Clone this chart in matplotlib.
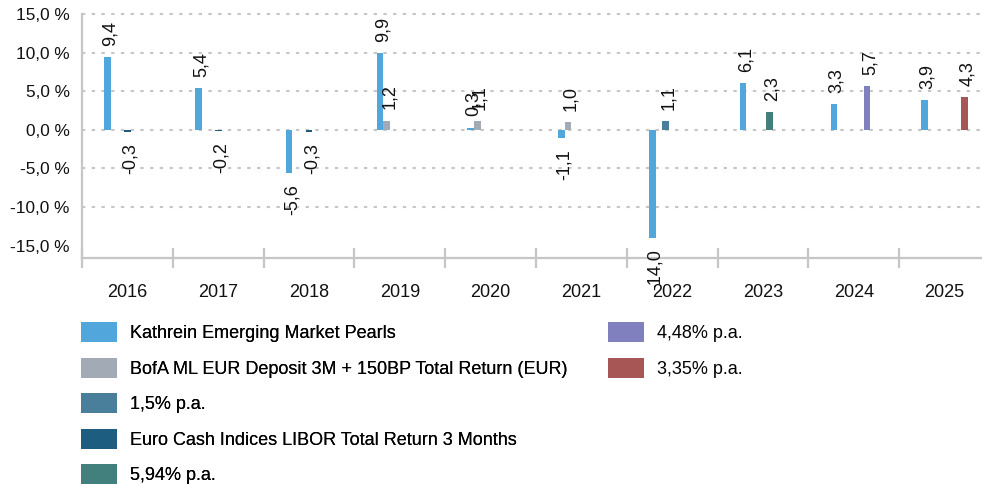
import numpy as np
import matplotlib
matplotlib.use("Agg")
import matplotlib.pyplot as plt

plt.rcParams['font.family'] = ['Liberation Sans', 'DejaVu Sans']
plt.rcParams['lines.scale_dashes'] = False

years = ['2016', '2017', '2018', '2019', '2020', '2021', '2022', '2023', '2024', '2025']
nan = np.nan
kathrein = [9.4, 5.4, -5.6, 9.9, 0.3, -1.1, -14.0, 6.1, 3.3, 3.9]
bofa = [nan, nan, nan, 1.2, 1.1, 1.0, nan, nan, nan, nan]
pa_15 = [nan, nan, nan, nan, nan, nan, 1.1, nan, nan, nan]
libor = [-0.3, -0.2, -0.3, nan, nan, nan, nan, nan, nan, nan]
pa_594 = [nan, nan, nan, nan, nan, nan, nan, 2.3, nan, nan]
pa_448 = [nan, nan, nan, nan, nan, nan, nan, nan, 5.7, nan]
pa_335 = [nan, nan, nan, nan, nan, nan, nan, nan, nan, 4.3]

series_names = ['Kathrein Emerging Market Pearls',
                'BofA ML EUR Deposit 3M + 150BP Total Return (EUR)',
                '1,5% p.a.',
                'Euro Cash Indices LIBOR Total Return 3 Months',
                '5,94% p.a.',
                '4,48% p.a.',
                '3,35% p.a.']
series_vals = [kathrein, bofa, pa_15, libor, pa_594, pa_448, pa_335]
colors = ['#51A7DC', '#A2ABB5', '#4A7F9C', '#1D5D80', '#41807C', '#8180BF', '#A85556']

yticks = [-15, -10, -5, 0, 5, 10, 15]

FS = 13
W, H = 982, 484
fig = plt.figure(figsize=(W / 100, H / 100), dpi=100)
ax = fig.add_axes([82 / W, (H - 258) / H, 908 / W, 244 / H])

x = np.arange(len(years))
bw = 0.073
n = len(series_vals)
bars = []
for i, (vals, c, name) in enumerate(zip(series_vals, colors, series_names)):
    pos = x + (i - (n - 1) / 2) * bw
    b = ax.bar(pos, vals, width=bw, color=c, label=name, zorder=3)
    bars.append(b)
    for xp, v in zip(pos, vals):
        if np.isnan(v):
            continue
        txt = f"{v:.1f}".replace('.', ',')
        if v >= 0:
            ax.annotate(txt, (xp, v), xytext=(2, 8), textcoords='offset points',
                        rotation=90, ha='center', va='bottom', fontsize=FS,
                        color='#111111', annotation_clip=False, zorder=5)
        else:
            ax.annotate(txt, (xp, v), xytext=(2, -8), textcoords='offset points',
                        rotation=90, ha='center', va='top', fontsize=FS,
                        color='#111111', annotation_clip=False, zorder=5)

ax.set_xlim(-0.5, len(years) - 0.5)
ax.set_ylim(-16.6, 15.0)

gray = '#C6C6C6'
for s in ['top', 'right']:
    ax.spines[s].set_visible(False)
ax.spines['left'].set_color(gray)
ax.spines['left'].set_linewidth(1.6)
ax.spines['bottom'].set_color(gray)
ax.spines['bottom'].set_linewidth(1.6)
ax.spines['left'].set_zorder(1)

ax.set_yticks(yticks)
ax.set_yticklabels([f"{t:.1f} %".replace('.', ',') for t in yticks], fontsize=12.4, color='#111111')
ax.tick_params(axis='y', length=0, pad=9)

ax.set_xticks(np.arange(-0.5, len(years) + 0.5, 1))
ax.set_xticklabels([])
ax.tick_params(axis='x', which='major', direction='inout', length=15, width=1.6, color=gray)
ax.set_xticks(x, minor=True)
ax.set_xticklabels(years, minor=True, fontsize=FS, color='#111111')
ax.tick_params(axis='x', which='minor', length=0, pad=19)

ax.yaxis.grid(True, color=gray, linewidth=1.5, linestyle=(0, (2.4, 4.6)), zorder=0)
ax.xaxis.grid(False)
gl = ax.yaxis.get_gridlines()
gl[0].set_visible(False)
for g in gl:
    g.set_clip_on(False)

hs = [b for b in bars]
leg_kw = dict(loc='upper left', frameon=False, fontsize=FS, handlelength=2.0,
              handleheight=1.33, handletextpad=0.7, labelspacing=0.86,
              borderpad=0, borderaxespad=0)
leg1 = fig.legend(hs[:5], series_names[:5], bbox_to_anchor=(81 / W, 1 - 322 / H), **leg_kw)
leg2 = fig.legend(hs[5:], series_names[5:], bbox_to_anchor=(608 / W, 1 - 322 / H), **leg_kw)
fig.add_artist(leg1)

fig.savefig('out.png', dpi=100)
